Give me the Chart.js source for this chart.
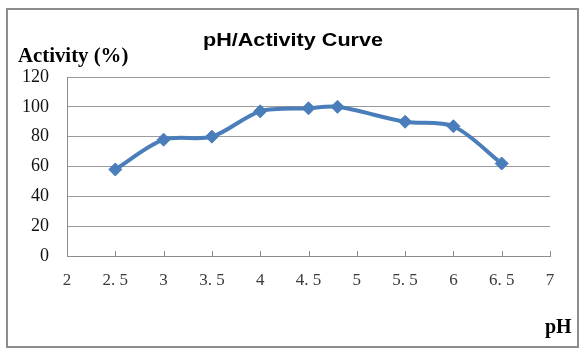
<!DOCTYPE html>
<html>
<head>
<meta charset="utf-8">
<script src="https://cdn.jsdelivr.net/npm/chart.js@4"></script>
<style>
    body { margin: 0; background: #fff; }
    #wrap { position: relative; width: 585px; height: 353px; }
    #frame {
        position: absolute; left: 6px; top: 8px; width: 569px; height: 336px;
        border: 2px solid #8c8c8c; pointer-events: none;
    }
</style>
</head>
<body>
<div id="wrap">
    <canvas id="phChart" width="585" height="353"></canvas>
    <div id="frame"></div>
</div>
<script>
const phValues = [2.5, 3, 3.5, 4, 4.5, 4.8, 5.5, 6, 6.5];
const activityValues = [58, 78, 80, 97, 99, 100, 90, 87, 62];
const xTickLabels = ['2', '2. 5', '3', '3. 5', '4', '4. 5', '5', '5. 5', '6', '6. 5', '7'];
const chartTitle = 'pH/Activity Curve';
const yCaption = 'Activity (%)';
const xCaption = 'pH';

// small tick marks sitting inside the plot, on top of the x axis
const innerTicksPlugin = {
    id: 'innerTicks',
    beforeDatasetsDraw(chart) {
        const ctx = chart.ctx;
        const xScale = chart.scales.x;
        const bottom = chart.chartArea.bottom;
        ctx.save();
        ctx.strokeStyle = '#8c8c8c';
        ctx.lineWidth = 1;
        xScale.ticks.forEach((t) => {
            const px = Math.round(xScale.getPixelForValue(t.value)) + 0.5;
            ctx.beginPath();
            ctx.moveTo(px, bottom);
            ctx.lineTo(px, bottom - 5);
            ctx.stroke();
        });
        ctx.restore();
    }
};

// texts drawn by hand, the picture is a bit stretched sideways
const captionsPlugin = {
    id: 'captions',
    afterDraw(chart) {
        const ctx = chart.ctx;
        ctx.save();
        ctx.fillStyle = '#000';
        ctx.textBaseline = 'alphabetic';

        ctx.save();
        ctx.translate(293, 46);
        ctx.scale(1.2, 1);
        ctx.font = 'bold 18px "Liberation Sans", Arial, sans-serif';
        ctx.textAlign = 'center';
        ctx.fillText(chartTitle, 0, 0);
        ctx.restore();

        ctx.save();
        ctx.translate(18, 62);
        ctx.scale(1.04, 1);
        ctx.font = 'bold 20px "Liberation Serif", serif';
        ctx.textAlign = 'left';
        ctx.fillText(yCaption, 0, 0);
        ctx.restore();

        ctx.font = 'bold 20px "Liberation Serif", serif';
        ctx.textAlign = 'left';
        ctx.fillText(xCaption, 545, 333);
        ctx.restore();
    }
};

const points = phValues.map((x, i) => ({ x: x, y: activityValues[i] }));

new Chart(document.getElementById('phChart'), {
    type: 'scatter',
    data: {
        datasets: [{
            data: points,
            showLine: true,
            borderColor: '#4a7ebb',
            backgroundColor: '#4a7ebb',
            borderWidth: 4,
            tension: 0.3,
            pointStyle: 'rectRot',
            pointRadius: 6.5,
            pointBorderWidth: 1,
            pointBorderColor: '#4a7ebb'
        }]
    },
    options: {
        responsive: false,
        animation: false,
        layout: { padding: { left: 0, right: 35, top: 77, bottom: 0 } },
        plugins: {
            legend: { display: false },
            title: { display: false },
            tooltip: { enabled: false }
        },
        scales: {
            x: {
                type: 'linear',
                min: 2,
                max: 7,
                afterFit(scale) { scale.height = 97; },
                border: { display: true, color: '#8c8c8c', width: 1 },
                grid: { display: false, drawTicks: false },
                ticks: {
                    stepSize: 0.5,
                    padding: 14,
                    color: '#3a3a3a',
                    font: { family: '"Liberation Serif", serif', size: 17 },
                    maxRotation: 0,
                    autoSkip: false,
                    callback: (v, i) => xTickLabels[i]
                }
            },
            y: {
                min: 0,
                max: 120,
                afterFit(scale) { scale.width = 67; },
                border: { display: true, color: '#8c8c8c', width: 1 },
                grid: { drawTicks: false, color: '#9a9a9a', lineWidth: 1 },
                ticks: {
                    stepSize: 20,
                    padding: 18,
                    color: '#111',
                    font: { family: '"Liberation Serif", serif', size: 18 }
                }
            }
        }
    },
    plugins: [innerTicksPlugin, captionsPlugin]
});
</script>
</body>
</html>
